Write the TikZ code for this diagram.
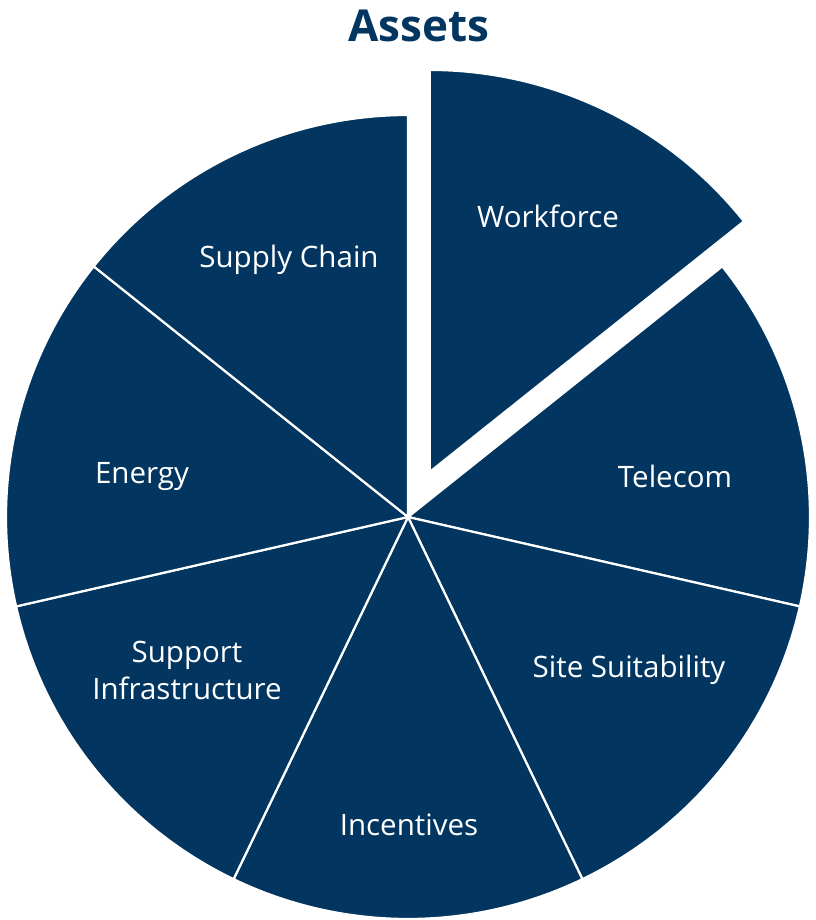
\documentclass[tikz,border=0pt]{standalone}
\usepackage{fontspec}
\setmainfont{Open Sans}[Ligatures=NoCommon]
\usepackage{tikz}

\definecolor{navy}{RGB}{2,54,96}

\tikzset{
	slice/.style={fill=navy,draw=white,line width=2.2pt,line join=round},
	lbl/.style={text=white,font=\fontsize{29.5}{37}\selectfont,align=center,inner sep=0pt}
}

\begin{document}
\begin{tikzpicture}[x=1pt,y=1pt]
	
		\useasboundingbox (-408,-403) rectangle (407,517);
		
		% the six slices that stay in place
		\foreach \a/\b in {38.571/-12.857,-12.857/-64.286,-64.286/-115.714,-115.714/-167.143,-167.143/-218.571,-218.571/-270}
			\path[slice] (0,0) -- (\a:402pt) arc[start angle=\a,end angle=\b,radius=402pt] -- cycle;
		
		% the pulled out slice
		\path[slice,shift={(64.286:50pt)}] (0,0) -- (90:402pt) arc[start angle=90,end angle=38.571,radius=402pt] -- cycle;
		
		\node[text=navy,font=\fontsize{44}{50}\selectfont\bfseries] (title) at (11,491) {Assets};
		
		\node[lbl] (workforce) at (140,301) {Workforce};
		\node[lbl] (supply) at (-119,257) {Supply Chain};
		\node[lbl] (telecom) at (267,41) {Telecom};
		\node[lbl] (energy) at (-266,40) {Energy};
		\node[lbl] (support) at (-221,-153) {Support\\Infrastructure};
		\node[lbl] (site) at (221,-153) {Site Suitability};
		\node[lbl] (incentives) at (1,-308) {Incentives};
		
	\end{tikzpicture}
\end{document}
